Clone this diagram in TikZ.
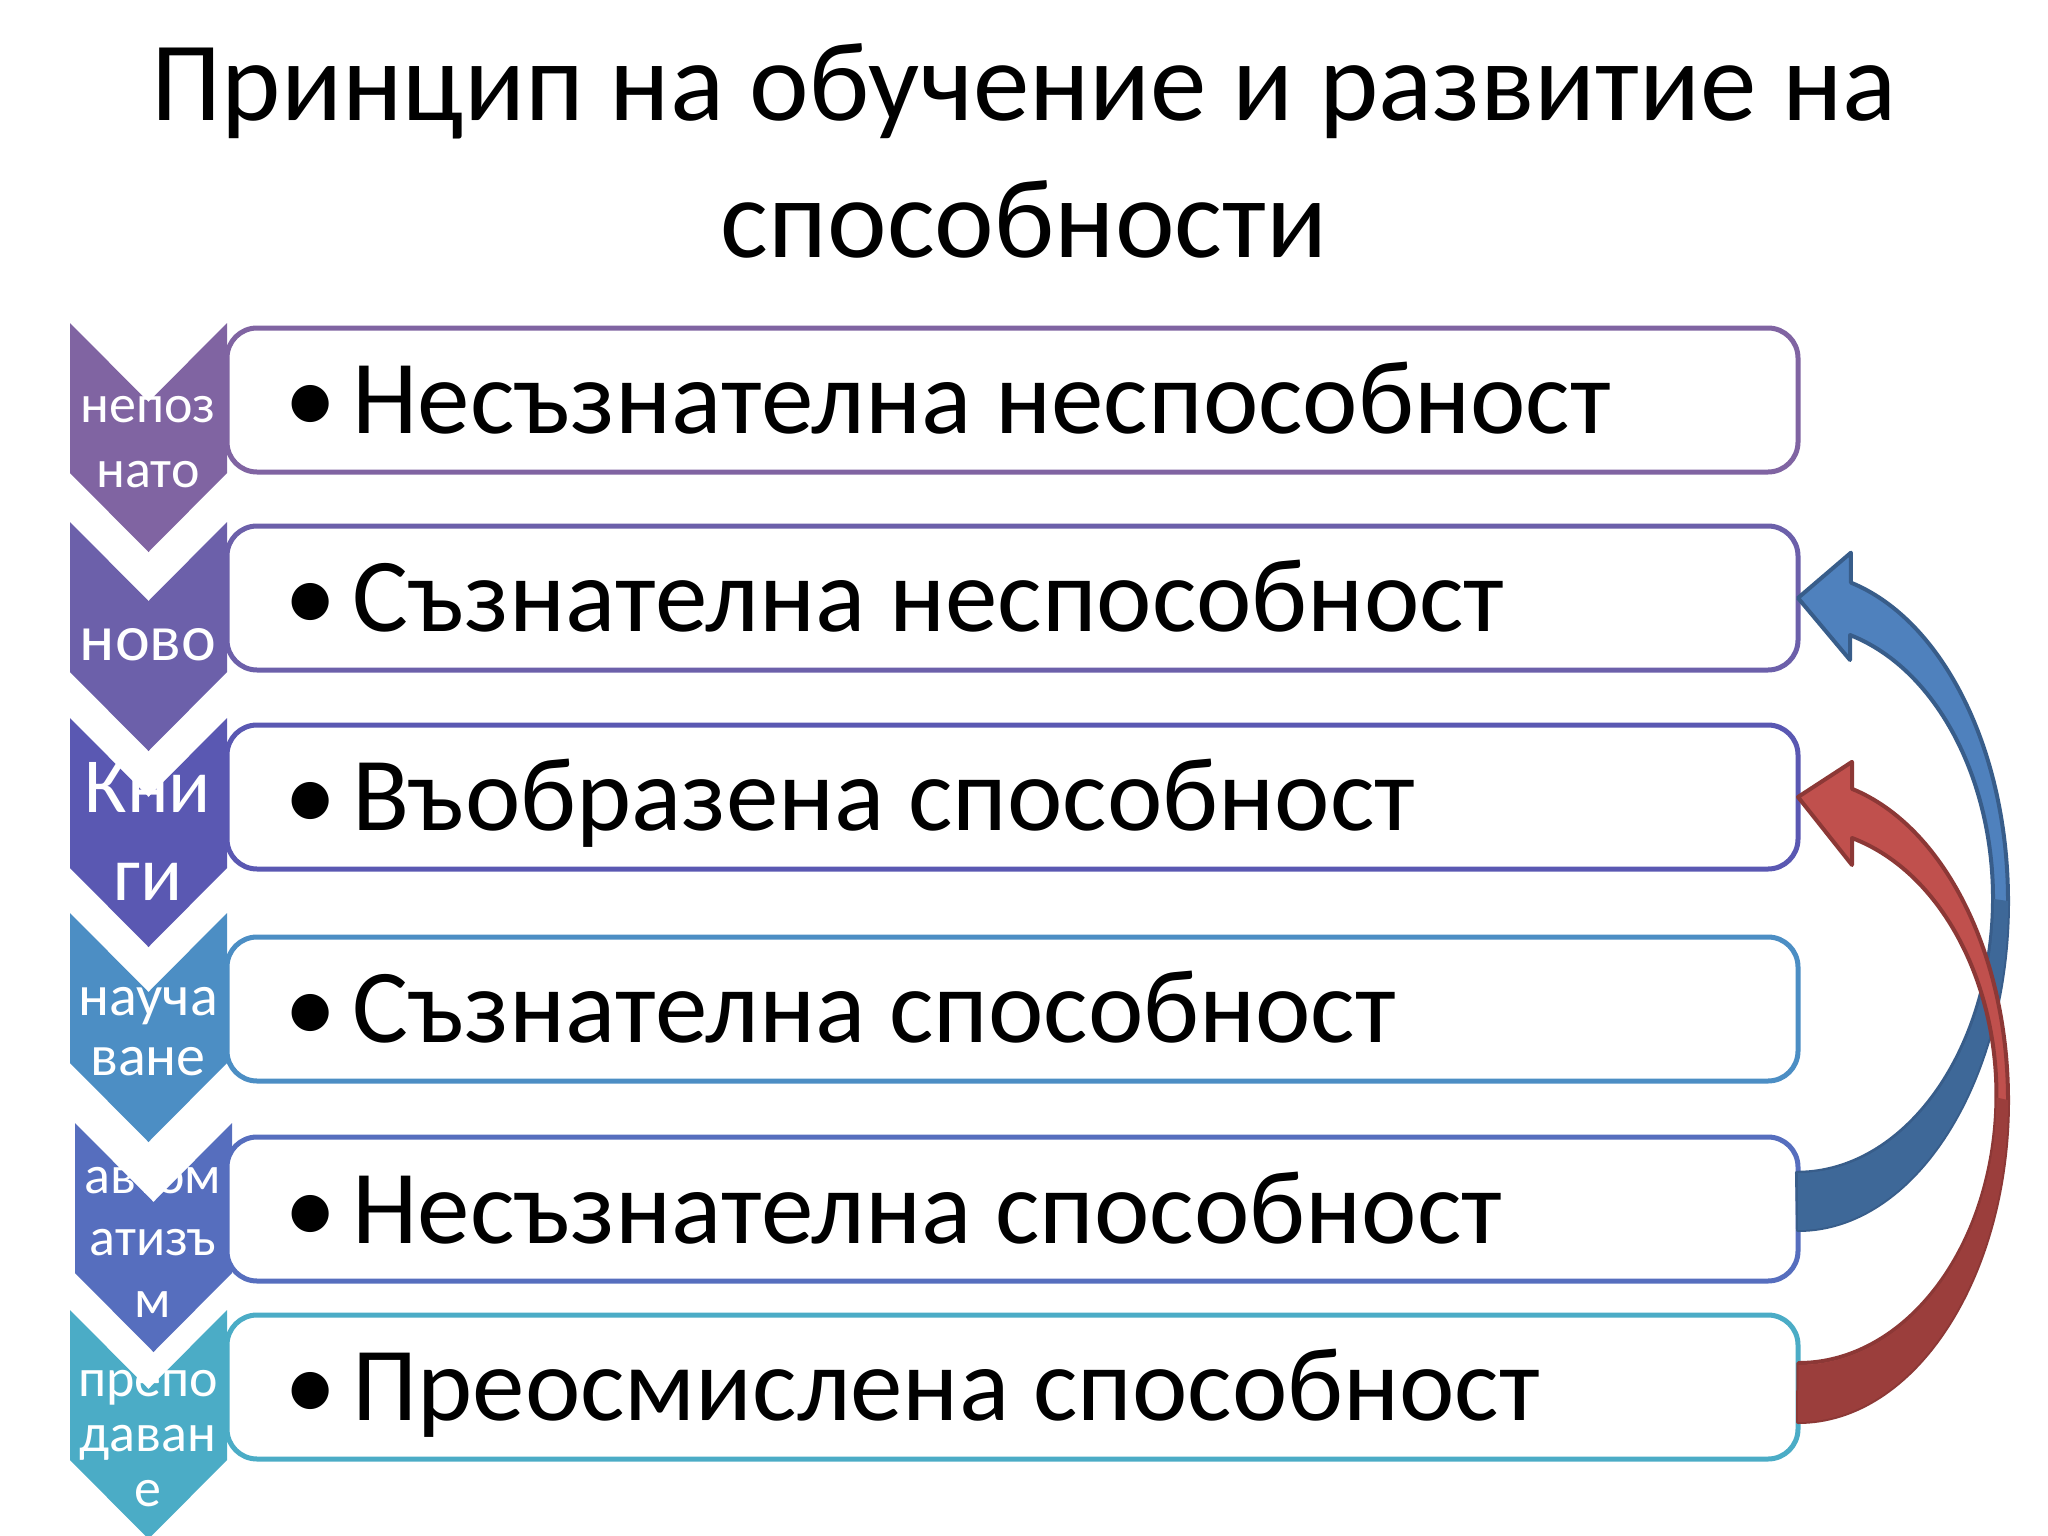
\documentclass[tikz,border=0pt]{standalone}
\usepackage{fontspec}
\setmainfont{Carlito}
\usetikzlibrary{calc}
\definecolor{chA}{RGB}{128,100,162}
\definecolor{chB}{RGB}{108,96,170}
\definecolor{chC}{RGB}{90,88,178}
\definecolor{chD}{RGB}{76,142,196}
\definecolor{chE}{RGB}{86,110,190}
\definecolor{chF}{RGB}{75,172,198}
\definecolor{blueup}{RGB}{79,129,189}
\definecolor{bluedown}{RGB}{62,104,152}
\definecolor{blueline}{RGB}{56,93,138}
\definecolor{redup}{RGB}{192,80,77}
\definecolor{reddown}{RGB}{155,62,60}
\definecolor{redline}{RGB}{140,56,54}
\begin{document}
\begin{tikzpicture}[x=1pt,y=-1pt,
  stepbox/.style={draw, line width=5pt, fill=white, rounded corners=30pt,
    minimum width=1571pt, minimum height=144pt, anchor=north west,
    outer sep=0pt, inner sep=0pt},
  itemtext/.style={anchor=base west, inner sep=0pt,
    font=\fontsize{105}{120}\selectfont},
  chevtext/.style={text=white, align=center, anchor=base, inner sep=0pt},
  bigarrow/.style={line width=4pt, line join=round}]
\useasboundingbox (0,0) rectangle (2048,1536);
% title (base = last line)
\node[anchor=base, align=center, inner sep=0pt,
  font=\fontsize{113}{137}\selectfont] (title) at (1024,257)
  {Принцип на обучение и развитие на\\способности};
% chevrons
\foreach \x/\ytop/\col in {70/323/chA,70/522/chB,70/718/chC,70/913/chD,75/1123/chE,70/1310/chF}
  \fill[\col] (\x,\ytop) -- ++(78.5,79) -- ++(78.5,-79) -- ++(0,150)
    -- ++(-78.5,79) -- ++(-78.5,-79) -- cycle;
\node[chevtext, font=\fontsize{54}{65}\selectfont] (c1) at (148,487) {непоз\\нато};
\node[chevtext, font=\fontsize{66}{70}\selectfont] (c2) at (148,660) {ново};
\node[chevtext, font=\fontsize{78}{88}\selectfont] (c3) at (148,900) {Кни\\ги};
\node[chevtext, font=\fontsize{58}{60}\selectfont] (c4) at (148,1075) {науча\\ване};
\node[chevtext, font=\fontsize{54}{62}\selectfont] (c5) at (153,1317) {автом\\атизъ\\м};
\node[chevtext, font=\fontsize{54}{55}\selectfont] (c6) at (148,1506) {препо\\даван\\е};
% boxes
\node[stepbox, draw=chA] (b1) at (227,328) {};
\node[stepbox, draw=chB] (b2) at (227,526) {};
\node[stepbox, draw=chC] (b3) at (227,725) {};
\node[stepbox, draw=chD] (b4) at (227,937) {};
\node[stepbox, draw=chE] (b5) at (227,1137) {};
\node[stepbox, draw=chF] (b6) at (227,1315) {};
\node[itemtext] (t1) at (284,433) {\textbullet\hspace{16pt}Несъзнателна неспособност};
\node[itemtext] (t2) at (284,631) {\textbullet\hspace{16pt}Съзнателна неспособност};
\node[itemtext] (t3) at (284,830) {\textbullet\hspace{16pt}Въобразена способност};
\node[itemtext] (t4) at (284,1042) {\textbullet\hspace{16pt}Съзнателна способност};
\node[itemtext] (t5) at (284,1243) {\textbullet\hspace{16pt}Несъзнателна способност};
\node[itemtext] (t6) at (284,1420) {\textbullet\hspace{16pt}Преосмислена способност};
% curved arrows
\filldraw[bigarrow, fill=blueup, draw=blueline] ($(b5.east)+(0,21)$) coordinate (bt)
  arc[start angle=90, end angle=-75.4, x radius=210, y radius=329]
  -- ++(0,-30) -- (b2.east) -- ++(52,62) -- ++(0,-25)
  arc[start angle=-74.3, end angle=90, x radius=196, y radius=274] -- cycle;
\fill[bluedown] (bt) arc[start angle=90, end angle=0, x radius=210, y radius=329]
  -- ++(-14,-2) arc[start angle=0, end angle=90, x radius=196, y radius=274] -- cycle;
\filldraw[bigarrow, fill=redup, draw=redline] ($(b6.east)+(0,35)$) coordinate (rt)
  arc[start angle=90, end angle=-75.1, x radius=210, y radius=322]
  -- ++(0,-27) -- (b3.east) -- ++(54,68) -- ++(0,-27)
  arc[start angle=-74.3, end angle=90, x radius=198, y radius=267.5] -- cycle;
\fill[reddown] (rt) arc[start angle=90, end angle=0, x radius=210, y radius=322]
  -- ++(-11.6,-2.5) arc[start angle=0, end angle=90, x radius=198, y radius=267.5] -- cycle;
\end{tikzpicture}
\end{document}
